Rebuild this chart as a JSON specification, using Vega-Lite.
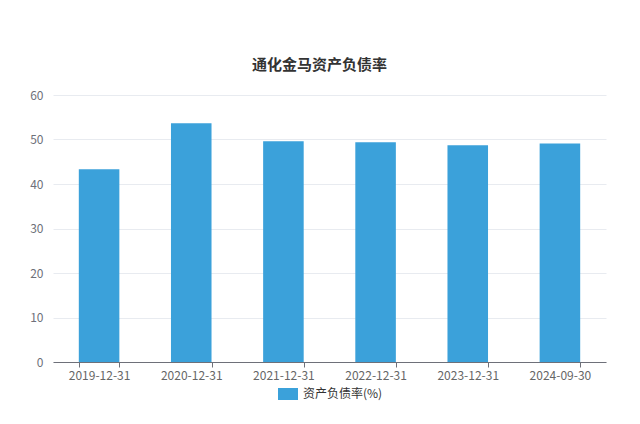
{
  "$schema": "https://vega.github.io/schema/vega-lite/v6.json",
  "width": 553,
  "height": 267,
  "autosize": "none",
  "padding": {"left": 53, "top": 95, "right": 34, "bottom": 62},
  "background": "white",
  "title": {
    "text": "通化金马资产负债率",
    "fontSize": 15,
    "fontWeight": "bold",
    "color": "#333333",
    "font": "Noto Sans CJK SC",
    "anchor": "middle",
    "dx": -10,
    "offset": 16
  },
  "data": {
    "values": [
      {"date": "2019-12-31", "value": 43.3},
      {"date": "2020-12-31", "value": 53.65},
      {"date": "2021-12-31", "value": 49.6},
      {"date": "2022-12-31", "value": 49.4},
      {"date": "2023-12-31", "value": 48.7},
      {"date": "2024-09-30", "value": 49.1}
    ]
  },
  "mark": {"type": "bar"},
  "encoding": {
    "x": {
      "field": "date",
      "type": "nominal",
      "sort": null,
      "scale": {"paddingInner": 0.56, "paddingOuter": 0.28},
      "axis": {
        "title": null,
        "labelAngle": 0,
        "labelColor": "#666666",
        "labelFontSize": 12,
        "labelFont": "Noto Sans CJK SC",
        "domainColor": "#6e7079",
        "tickColor": "#6e7079",
        "tickSize": 5,
        "tickBand": "extent",
        "labelPadding": 3,
        "grid": false
      }
    },
    "y": {
      "field": "value",
      "type": "quantitative",
      "scale": {"domain": [0, 60]},
      "axis": {
        "title": null,
        "values": [0, 10, 20, 30, 40, 50, 60],
        "domain": false,
        "ticks": false,
        "labelColor": "#6e7079",
        "labelFontSize": 12,
        "labelFont": "Noto Sans CJK SC",
        "labelPadding": 10,
        "gridColor": "#e8ebf0"
      }
    },
    "color": {
      "datum": "资产负债率(%)",
      "scale": {"range": ["#3ba1da"]},
      "legend": {
        "title": null,
        "orient": "bottom",
        "symbolType": "M-1,-0.6H1V0.6H-1Z",
        "symbolSize": 400,
        "labelFontSize": 12,
        "labelColor": "#333333",
        "labelFont": "Noto Sans CJK SC",
        "labelOffset": 4,
        "offset": 2
      }
    }
  },
  "config": {
    "view": {"stroke": null},
    "legend": {"layout": {"bottom": {"anchor": "middle"}}}
  }
}
